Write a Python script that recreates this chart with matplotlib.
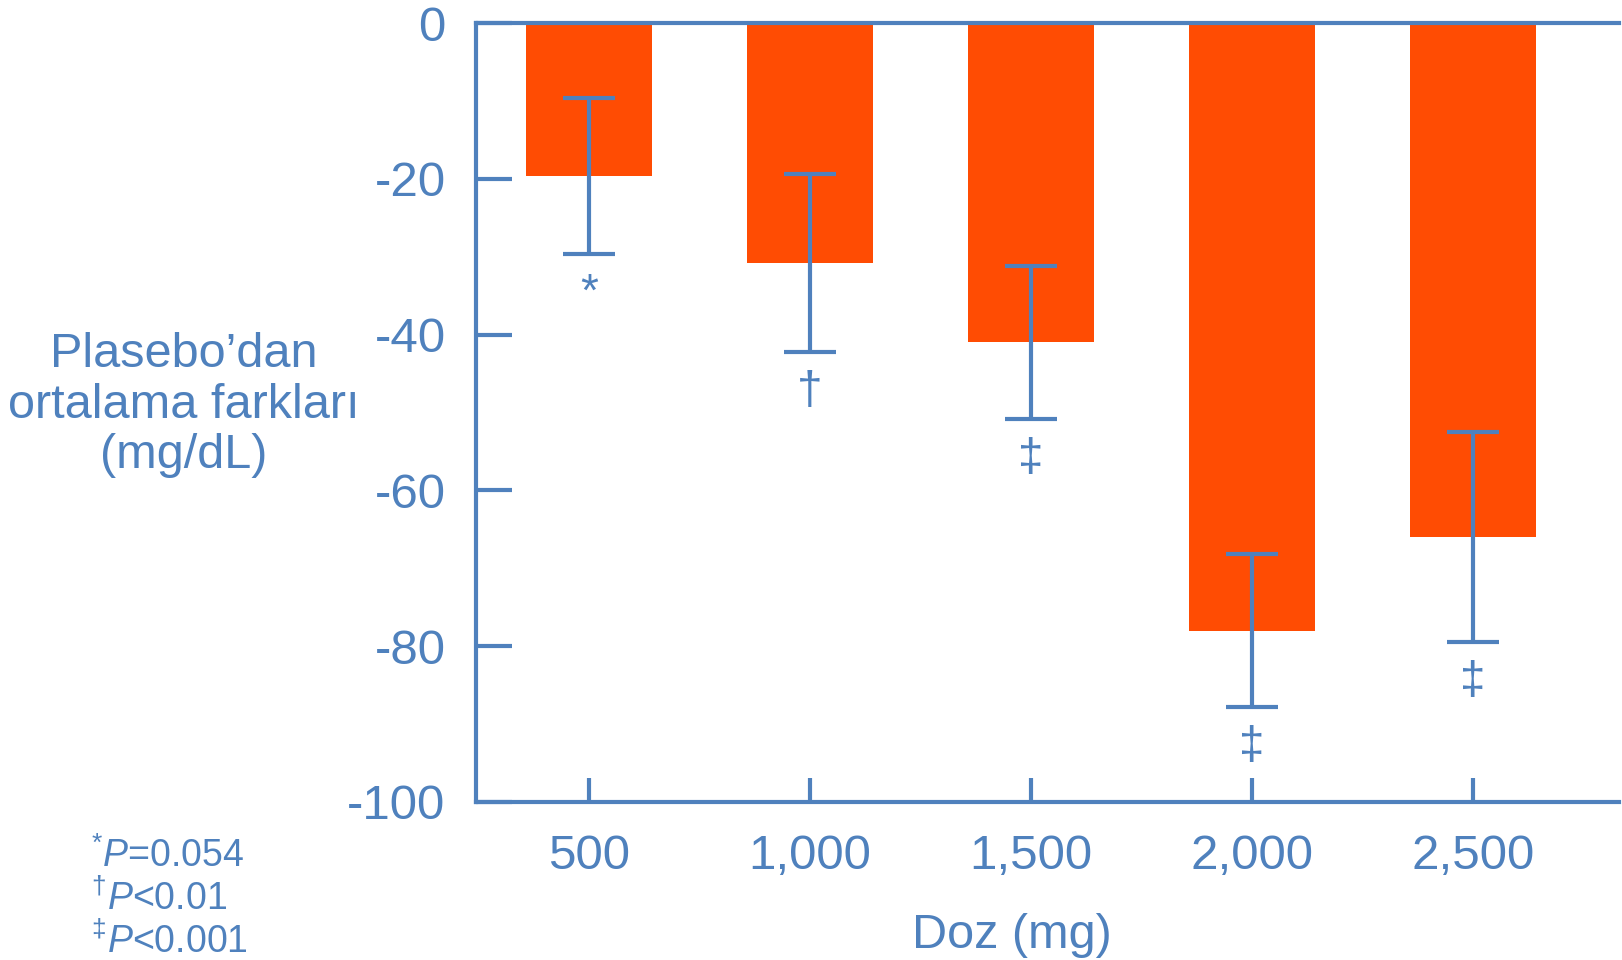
import matplotlib
matplotlib.use("Agg")
import matplotlib.pyplot as plt

# Data
doses = ["500", "1,000", "1,500", "2,000", "2,500"]
mean_diff = [-19.6, -30.8, -41.0, -78.0, -66.0]
err = [10.0, 11.4, 9.8, 9.8, 13.5]
sig_marks = ["*", "\u2020", "\u2021", "\u2021", "\u2021"]
y_ticks = [0, -20, -40, -60, -80, -100]
footnotes = [("*", "=0.054"), ("\u2020", "<0.01"), ("\u2021", "<0.001")]

BLUE = "#4F81BD"
ORANGE = "#FF4C03"

plt.rcParams["font.family"] = ["Liberation Sans", "DejaVu Sans"]
plt.rcParams["axes.unicode_minus"] = False
plt.rcParams["mathtext.fontset"] = "custom"
plt.rcParams["mathtext.rm"] = "Liberation Sans"
plt.rcParams["mathtext.it"] = "Liberation Sans:italic"

fig = plt.figure(figsize=(16.22, 9.6), dpi=100)
ax = fig.add_axes([0.2935, 0.1646, 0.7045, 0.8114])

x = list(range(len(doses)))
ax.bar(x, mean_diff, width=0.57, color=ORANGE, zorder=2)
ax.errorbar(x, mean_diff, yerr=err, fmt="none", ecolor=BLUE, elinewidth=3,
            capsize=19, capthick=3, zorder=3)

for xi, m, e, s in zip(x, mean_diff, err, sig_marks):
    ax.annotate(s, (xi, m - e), xytext=(0, -13), textcoords="offset points",
                ha="center", va="top", color=BLUE, fontsize=33)

ax.set_xlim(-0.51, 4.66)
ax.set_ylim(-100, 0)
ax.set_xticks(x)
ax.set_xticklabels(doses)
ax.set_yticks(y_ticks)
ax.set_yticklabels([str(v) for v in y_ticks])

for side in ["left", "top", "bottom"]:
    ax.spines[side].set_color(BLUE)
    ax.spines[side].set_linewidth(3)
ax.spines["right"].set_visible(False)

ax.tick_params(axis="y", direction="in", length=26, width=3, color=BLUE,
               labelcolor=BLUE, labelsize=35.5, pad=22)
ax.tick_params(axis="x", direction="in", length=17, width=3, color=BLUE,
               labelcolor=BLUE, labelsize=35.5, pad=23)

fig.text(184 / 1622, 1 - 405 / 960, "Plasebo\u2019dan\nortalama farkları\n(mg/dL)",
         ha="center", va="center", color=BLUE, fontsize=35, linespacing=1.15)
fig.text(1012 / 1622, 1 - 936 / 960, "Doz (mg)", ha="center", va="center",
         color=BLUE, fontsize=35)

for i, (sym, rest) in enumerate(footnotes):
    fig.text(91 / 1622, 1 - (856 + 43 * i) / 960,
             r"$^{%s}\mathit{P}$%s" % (sym, rest),
             ha="left", va="center", color=BLUE, fontsize=27)

fig.savefig("out.png", dpi=100, facecolor="white")
